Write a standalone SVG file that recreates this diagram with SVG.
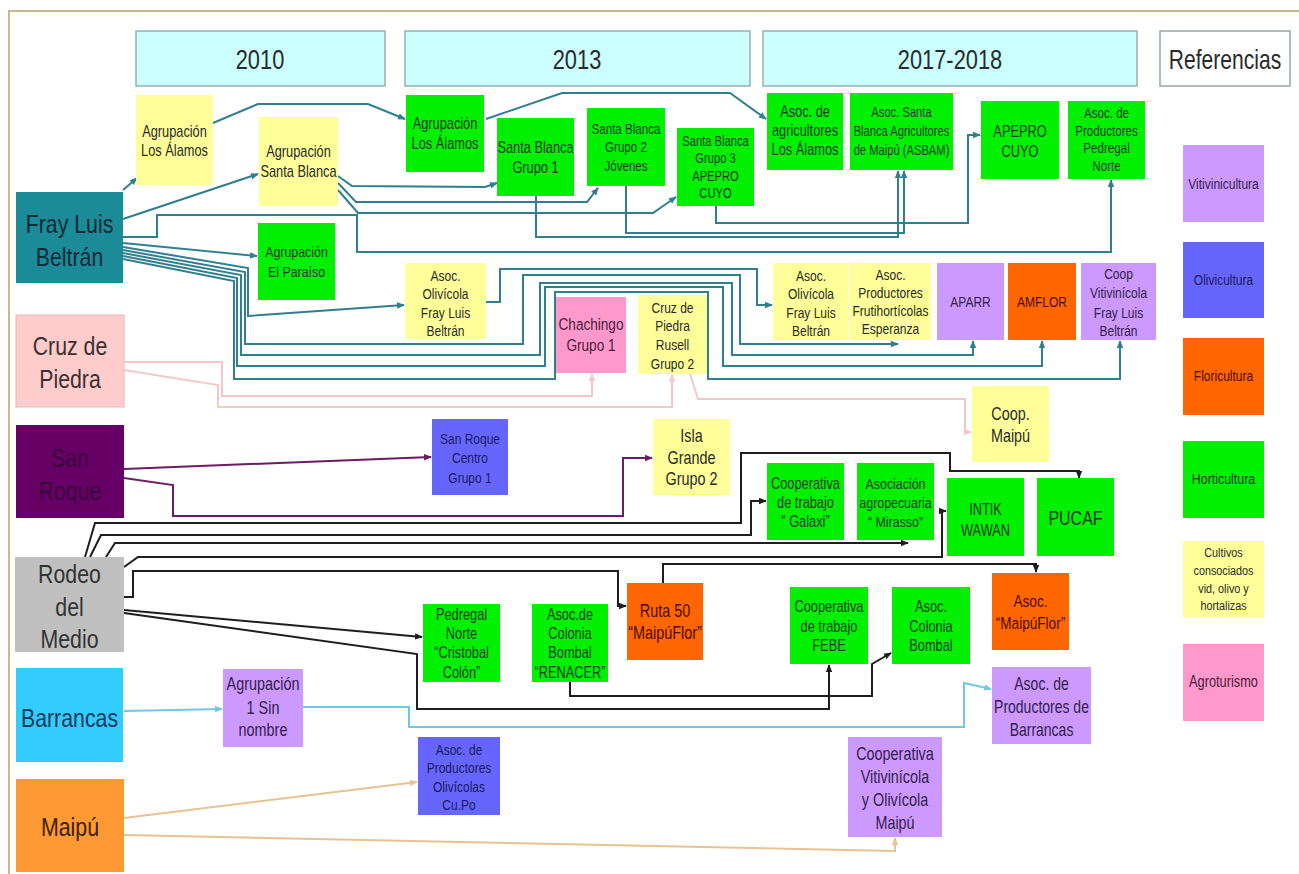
<svg xmlns="http://www.w3.org/2000/svg" width="1299" height="874" viewBox="0 0 1299 874">
<style>
text{font-family:"Liberation Sans",Arial,sans-serif;text-anchor:middle;fill:#2a2a2a}
.hd{fill:#ccffff;stroke:#9aaeb4;stroke-width:1.5}
.yl{fill:#ffff99}.gr{fill:#00f000}.lv{fill:#cc99ff}.bl{fill:#6666ff}.or{fill:#ff6600}.pk{fill:#ff99cc}
.tgr{fill:#1f3a1f}.tbl{fill:#1a1a5a}.tor{fill:#4a0c00}.tlv{fill:#33204a}.tpk{fill:#4a1a3a}
.c{fill:none;stroke-width:2;stroke-linejoin:miter}
.teal{stroke:#2f7f8e;marker-end:url(#mt)}
.pink{stroke:#f2c9c9;marker-end:url(#mp)}
.purp{stroke:#6e1b66;marker-end:url(#mu)}
.blk{stroke:#1e1e1e;marker-end:url(#mk)}
.lb{stroke:#74c6e4;marker-end:url(#mb)}
.tan{stroke:#e8c293;marker-end:url(#mn)}
</style>
<defs>
<marker id="mt" markerWidth="8" markerHeight="8" refX="7" refY="4" orient="auto" markerUnits="userSpaceOnUse"><path d="M0,0.8 L8,4 L0,7.2 Z" fill="#2f7f8e"/></marker>
<marker id="mp" markerWidth="8" markerHeight="8" refX="7" refY="4" orient="auto" markerUnits="userSpaceOnUse"><path d="M0,0.8 L8,4 L0,7.2 Z" fill="#f2c9c9"/></marker>
<marker id="mu" markerWidth="8" markerHeight="8" refX="7" refY="4" orient="auto" markerUnits="userSpaceOnUse"><path d="M0,0.8 L8,4 L0,7.2 Z" fill="#6e1b66"/></marker>
<marker id="mk" markerWidth="8" markerHeight="8" refX="7" refY="4" orient="auto" markerUnits="userSpaceOnUse"><path d="M0,0.8 L8,4 L0,7.2 Z" fill="#1e1e1e"/></marker>
<marker id="mb" markerWidth="8" markerHeight="8" refX="7" refY="4" orient="auto" markerUnits="userSpaceOnUse"><path d="M0,0.8 L8,4 L0,7.2 Z" fill="#74c6e4"/></marker>
<marker id="mn" markerWidth="8" markerHeight="8" refX="7" refY="4" orient="auto" markerUnits="userSpaceOnUse"><path d="M0,0.8 L8,4 L0,7.2 Z" fill="#e8c293"/></marker>
</defs>
<rect x="0" y="0" width="1299" height="874" fill="#ffffff"/>
<path d="M9,874 L9,11 L1299,11" fill="none" stroke="#c9b98c" stroke-width="2"/>

<g id="headers">
<g id="h-2010"><rect class="hd" x="136" y="31" width="249" height="55"/><text transform="translate(260 0) scale(0.78 1)" font-size="28"><tspan x="0" y="69">2010</tspan></text></g>
<g id="h-2013"><rect class="hd" x="405" y="31" width="345" height="55"/><text transform="translate(577 0) scale(0.78 1)" font-size="28"><tspan x="0" y="69">2013</tspan></text></g>
<g id="h-2017"><rect class="hd" x="763" y="31" width="374" height="55"/><text transform="translate(950 0) scale(0.78 1)" font-size="28"><tspan x="0" y="69">2017-2018</tspan></text></g>
<g id="h-ref"><rect x="1160" y="31" width="130" height="55" fill="#ffffff" stroke="#9aa4a8" stroke-width="1.5"/><text transform="translate(1225 0) scale(0.78 1)" font-size="27"><tspan x="0" y="69">Referencias</tspan></text></g>
</g>

<g id="connectors">
<path class="c teal" d="M123,190 L137,178"/>
<path class="c teal" d="M123,219 L258,174"/>
<path class="c teal" d="M213,123 L258,104 L368,104 L405,119"/>
<path class="c teal" d="M486,119 L562,93 L730,93 L766,119"/>
<path class="c teal" d="M338,176 L352,186 L485,187 L497,183"/>
<path class="c teal" d="M338,183 L356,202 L587,202 L598,188"/>
<path class="c teal" d="M338,190 L358,213 L653,213 L676,197"/>
<path class="c teal" d="M123,237 L157,237 L157,215 L357,215 L357,252 L1111,252 L1111,180"/>
<path class="c teal" d="M536,196 L536,237 L898,237 L898,171"/>
<path class="c teal" d="M626,186 L626,233 L904,233 L904,171"/>
<path class="c teal" d="M716,206 L716,223 L968,223 L968,135 L980,135"/>
<path class="c teal" d="M123,243 L257,256"/>
<path class="c teal" d="M123,247 L248,268 L248,316 L404,305"/>
<path class="c teal" d="M123,250 L245,272 L245,344 L523,344 L523,275 L740,275 L740,344 L898,344"/>
<path class="c teal" d="M123,253 L241,275 L241,355 L540,355 L540,283 L732,283 L732,355 L973,355 L973,341"/>
<path class="c teal" d="M123,256 L237,278 L237,366 L545,366 L545,287 L723,287 L723,366 L1042,366 L1042,341"/>
<path class="c teal" d="M123,259 L234,281 L234,379 L555,379 L555,292 L708,292 L708,379 L1120,379 L1120,341"/>
<path class="c teal" d="M486,302 L500,302 L500,269 L757,269 L757,305 L772,305"/>
<path class="c pink" d="M124,362 L222,362 L222,396 L592,396 L592,374"/>
<path class="c pink" d="M124,370 L218,385 L218,407 L672,407 L672,375"/>
<path class="c pink" d="M690,374 L698,399 L965,399 L965,432 L971,432"/>
<path class="c purp" d="M124,469 L431,457"/>
<path class="c purp" d="M124,478 L173,485 L173,516 L623,516 L623,458 L652,458"/>
<path class="c blk" d="M85,557 L95,523 L741,523 L741,453 L950,453 L950,471 L1079,471 L1079,478"/>
<path class="c blk" d="M90,557 L101,535 L751,535 L751,501 L766,501"/>
<path class="c blk" d="M106,557 L115,543 L908,543"/>
<path class="c blk" d="M124,567 L138,557 L942,557 L942,511 L946,511"/>
<path class="c blk" d="M124,597 L133,597 L133,571 L618,571 L618,606 L626,606"/>
<path class="c blk" d="M124,610 L422,637"/>
<path class="c blk" d="M124,613 L417,654 L417,709 L829,709 L829,665"/>
<path class="c blk" d="M663,583 L663,564 L1036,564 L1036,572"/>
<path class="c blk" d="M570,682 L570,696 L872,696 L872,664 L891,653"/>
<path class="c lb" d="M124,711 L222,709"/>
<path class="c lb" d="M303,707 L409,707 L409,727 L964,727 L964,683 L991,689"/>
<path class="c tan" d="M124,818 L417,782"/>
<path class="c tan" d="M124,835 L895,851 L895,838"/>
</g>

<g id="n-fray-luis-beltran"><rect x="16" y="192" width="107" height="91" fill="#1a8b97"/><text transform="translate(69.5 0) scale(0.82 1)" font-size="26" style="fill:#0f2a3a"><tspan x="0" y="233">Fray Luis</tspan><tspan x="0" y="266">Beltrán</tspan></text></g>
<g id="n-cruz-de-piedra"><rect x="16" y="315" width="108" height="92" fill="#ffcccc" stroke="#e6b8b8"/><text transform="translate(70 0) scale(0.82 1)" font-size="26" style="fill:#3a3030"><tspan x="0" y="355">Cruz de</tspan><tspan x="0" y="388">Piedra</tspan></text></g>
<g id="n-san-roque"><rect x="16" y="425" width="108" height="93" fill="#660066"/><text transform="translate(70 0) scale(0.82 1)" font-size="26" style="fill:#3a003a"><tspan x="0" y="467">San</tspan><tspan x="0" y="500">Roque</tspan></text></g>
<g id="n-rodeo-del-medio"><rect x="15" y="557" width="109" height="95" fill="#c0c0c0"/><text transform="translate(69.5 0) scale(0.82 1)" font-size="26" style="fill:#333"><tspan x="0" y="583">Rodeo</tspan><tspan x="0" y="616">del</tspan><tspan x="0" y="648">Medio</tspan></text></g>
<g id="n-barrancas"><rect x="16" y="668" width="107" height="94" fill="#33ccff"/><text transform="translate(69.5 0) scale(0.82 1)" font-size="26" style="fill:#163a5a"><tspan x="0" y="727">Barrancas</tspan></text></g>
<g id="n-maipu"><rect x="16" y="779" width="108" height="93" fill="#ff9933"/><text transform="translate(70 0) scale(0.82 1)" font-size="26" style="fill:#3a2200"><tspan x="0" y="836">Maipú</tspan></text></g>

<g id="n-agr-los-alamos-2010"><rect class="yl" x="136" y="95" width="77" height="90"/><text transform="translate(174.5 0) scale(0.8 1)" font-size="16"><tspan x="0" y="137">Agrupación</tspan><tspan x="0" y="156">Los Álamos</tspan></text></g>
<g id="n-agr-santa-blanca-2010"><rect class="yl" x="259" y="117" width="79" height="89"/><text transform="translate(298.5 0) scale(0.8 1)" font-size="16"><tspan x="0" y="157">Agrupación</tspan><tspan x="0" y="177">Santa Blanca</tspan></text></g>
<g id="n-agr-el-paraiso"><rect class="gr" x="258" y="223" width="77" height="77"/><text class="tgr" transform="translate(296.5 0) scale(0.8 1)" font-size="15.5"><tspan x="0" y="257">Agrupación</tspan><tspan x="0" y="277">El Paraíso</tspan></text></g>
<g id="n-asoc-olivicola-2010"><rect class="yl" x="405" y="263" width="81" height="76"/><text transform="translate(445.5 0) scale(0.8 1)" font-size="15"><tspan x="0" y="281">Asoc.</tspan><tspan x="0" y="299">Olivícola</tspan><tspan x="0" y="318">Fray Luis</tspan><tspan x="0" y="336">Beltrán</tspan></text></g>
<g id="n-san-roque-centro"><rect class="bl" x="432" y="419" width="76" height="76"/><text class="tbl" transform="translate(470 0) scale(0.8 1)" font-size="15"><tspan x="0" y="444">San Roque</tspan><tspan x="0" y="463">Centro</tspan><tspan x="0" y="483">Grupo 1</tspan></text></g>
<g id="n-agr-1-sin-nombre"><rect class="lv" x="223" y="669" width="80" height="78"/><text class="tlv" transform="translate(263 0) scale(0.8 1)" font-size="18"><tspan x="0" y="690">Agrupación</tspan><tspan x="0" y="714">1 Sin</tspan><tspan x="0" y="736">nombre</tspan></text></g>
<g id="n-cupo"><rect class="bl" x="418" y="737" width="82" height="78"/><text class="tbl" transform="translate(459 0) scale(0.8 1)" font-size="15"><tspan x="0" y="755">Asoc. de</tspan><tspan x="0" y="773">Productores</tspan><tspan x="0" y="792">Olivícolas</tspan><tspan x="0" y="810">Cu.Po</tspan></text></g>

<g id="n-agr-los-alamos-2013"><rect class="gr" x="406" y="95" width="78" height="77"/><text class="tgr" transform="translate(445 0) scale(0.8 1)" font-size="16"><tspan x="0" y="129">Agrupación</tspan><tspan x="0" y="149">Los Álamos</tspan></text></g>
<g id="n-sb-grupo-1"><rect class="gr" x="497" y="118" width="77" height="78"/><text class="tgr" transform="translate(535.5 0) scale(0.8 1)" font-size="16"><tspan x="0" y="153">Santa Blanca</tspan><tspan x="0" y="173">Grupo 1</tspan></text></g>
<g id="n-sb-grupo-2"><rect class="gr" x="587" y="108" width="78" height="78"/><text class="tgr" transform="translate(626 0) scale(0.8 1)" font-size="14.5"><tspan x="0" y="134">Santa Blanca</tspan><tspan x="0" y="152">Grupo 2</tspan><tspan x="0" y="171">Jóvenes</tspan></text></g>
<g id="n-sb-grupo-3"><rect class="gr" x="677" y="128" width="77" height="78"/><text class="tgr" transform="translate(715.5 0) scale(0.8 1)" font-size="14"><tspan x="0" y="146">Santa Blanca</tspan><tspan x="0" y="163">Grupo 3</tspan><tspan x="0" y="181">APEPRO</tspan><tspan x="0" y="198">CUYO</tspan></text></g>
<g id="n-chachingo"><rect class="pk" x="556" y="297" width="70" height="76"/><text class="tpk" transform="translate(591 0) scale(0.8 1)" font-size="17"><tspan x="0" y="330">Chachingo</tspan><tspan x="0" y="351">Grupo 1</tspan></text></g>
<g id="n-cdp-rusell"><rect class="yl" x="638" y="295" width="69" height="79"/><text transform="translate(672.5 0) scale(0.8 1)" font-size="15"><tspan x="0" y="313">Cruz de</tspan><tspan x="0" y="331">Piedra</tspan><tspan x="0" y="350">Rusell</tspan><tspan x="0" y="369">Grupo 2</tspan></text></g>
<g id="n-isla-grande"><rect class="yl" x="653" y="419" width="77" height="76"/><text transform="translate(691.5 0) scale(0.8 1)" font-size="18"><tspan x="0" y="442">Isla</tspan><tspan x="0" y="464">Grande</tspan><tspan x="0" y="485">Grupo 2</tspan></text></g>
<g id="n-pedregal-colon"><rect class="gr" x="423" y="604" width="77" height="78"/><text class="tgr" transform="translate(461.5 0) scale(0.8 1)" font-size="16"><tspan x="0" y="620">Pedregal</tspan><tspan x="0" y="639">Norte</tspan><tspan x="0" y="658">“Cristobal</tspan><tspan x="0" y="678">Colón”</tspan></text></g>
<g id="n-renacer"><rect class="gr" x="532" y="604" width="76" height="78"/><text class="tgr" transform="translate(570 0) scale(0.8 1)" font-size="16"><tspan x="0" y="620">Asoc.de</tspan><tspan x="0" y="639">Colonia</tspan><tspan x="0" y="658">Bombal</tspan><tspan x="0" y="678">“RENACER”</tspan></text></g>
<g id="n-ruta-50"><rect class="or" x="627" y="583" width="76" height="77"/><text class="tor" transform="translate(665 0) scale(0.8 1)" font-size="18"><tspan x="0" y="617">Ruta 50</tspan><tspan x="0" y="639">“MaipúFlor”</tspan></text></g>

<g id="n-asoc-agric-los-alamos"><rect class="gr" x="767" y="93" width="76" height="77"/><text class="tgr" transform="translate(805 0) scale(0.8 1)" font-size="16"><tspan x="0" y="117">Asoc. de</tspan><tspan x="0" y="136">agricultores</tspan><tspan x="0" y="155">Los Álamos</tspan></text></g>
<g id="n-asbam"><rect class="gr" x="850" y="93" width="103" height="77"/><text class="tgr" transform="translate(901.5 0) scale(0.8 1)" font-size="14"><tspan x="0" y="117">Asoc. Santa</tspan><tspan x="0" y="136">Blanca Agricultores</tspan><tspan x="0" y="155">de Maipú (ASBAM)</tspan></text></g>
<g id="n-apepro-cuyo"><rect class="gr" x="981" y="101" width="78" height="78"/><text class="tgr" transform="translate(1020 0) scale(0.8 1)" font-size="16"><tspan x="0" y="137">APEPRO</tspan><tspan x="0" y="157">CUYO</tspan></text></g>
<g id="n-pedregal-norte"><rect class="gr" x="1068" y="101" width="77" height="78"/><text class="tgr" transform="translate(1106.5 0) scale(0.8 1)" font-size="14.5"><tspan x="0" y="118">Asoc. de</tspan><tspan x="0" y="136">Productores</tspan><tspan x="0" y="153">Pedregal</tspan><tspan x="0" y="171">Norte</tspan></text></g>
<g id="n-asoc-olivicola-2017"><rect class="yl" x="773" y="263" width="76" height="77"/><text transform="translate(811 0) scale(0.8 1)" font-size="15"><tspan x="0" y="281">Asoc.</tspan><tspan x="0" y="299">Olivícola</tspan><tspan x="0" y="318">Fray Luis</tspan><tspan x="0" y="336">Beltrán</tspan></text></g>
<g id="n-frutihorticolas"><rect class="yl" x="850" y="263" width="81" height="77"/><text transform="translate(890.5 0) scale(0.8 1)" font-size="15"><tspan x="0" y="280">Asoc.</tspan><tspan x="0" y="298">Productores</tspan><tspan x="0" y="316">Frutihortícolas</tspan><tspan x="0" y="334">Esperanza</tspan></text></g>
<g id="n-aparr"><rect class="lv" x="937" y="263" width="67" height="77"/><text class="tlv" transform="translate(970.5 0) scale(0.8 1)" font-size="15"><tspan x="0" y="307">APARR</tspan></text></g>
<g id="n-amflor"><rect class="or" x="1008" y="263" width="68" height="77"/><text class="tor" transform="translate(1042 0) scale(0.8 1)" font-size="15"><tspan x="0" y="307">AMFLOR</tspan></text></g>
<g id="n-coop-viti-flb"><rect class="lv" x="1081" y="263" width="75" height="77"/><text class="tlv" transform="translate(1118.5 0) scale(0.8 1)" font-size="15"><tspan x="0" y="279">Coop</tspan><tspan x="0" y="298">Vitivinícola</tspan><tspan x="0" y="318">Fray Luis</tspan><tspan x="0" y="336">Beltrán</tspan></text></g>
<g id="n-coop-maipu"><rect class="yl" x="972" y="386" width="77" height="76"/><text transform="translate(1010.5 0) scale(0.8 1)" font-size="18"><tspan x="0" y="420">Coop.</tspan><tspan x="0" y="442">Maipú</tspan></text></g>
<g id="n-galaxi"><rect class="gr" x="767" y="463" width="77" height="77"/><text class="tgr" transform="translate(805.5 0) scale(0.8 1)" font-size="16"><tspan x="0" y="489">Cooperativa</tspan><tspan x="0" y="508">de trabajo</tspan><tspan x="0" y="527">“ Galaxi”</tspan></text></g>
<g id="n-mirasso"><rect class="gr" x="857" y="463" width="77" height="77"/><text class="tgr" transform="translate(895.5 0) scale(0.8 1)" font-size="15.5"><tspan x="0" y="489">Asociación</tspan><tspan x="0" y="508">agropecuaria</tspan><tspan x="0" y="527">“ Mirasso”</tspan></text></g>
<g id="n-intik-wawan"><rect class="gr" x="947" y="478" width="77" height="78"/><text class="tgr" transform="translate(985.5 0) scale(0.8 1)" font-size="16"><tspan x="0" y="515">INTIK</tspan><tspan x="0" y="536">WAWAN</tspan></text></g>
<g id="n-pucaf"><rect class="gr" x="1037" y="478" width="77" height="78"/><text class="tgr" transform="translate(1075.5 0) scale(0.8 1)" font-size="20"><tspan x="0" y="525">PUCAF</tspan></text></g>
<g id="n-febe"><rect class="gr" x="790" y="587" width="78" height="77"/><text class="tgr" transform="translate(829 0) scale(0.8 1)" font-size="16"><tspan x="0" y="612">Cooperativa</tspan><tspan x="0" y="632">de trabajo</tspan><tspan x="0" y="651">FEBE</tspan></text></g>
<g id="n-colonia-bombal"><rect class="gr" x="892" y="587" width="78" height="77"/><text class="tgr" transform="translate(931 0) scale(0.8 1)" font-size="16"><tspan x="0" y="612">Asoc.</tspan><tspan x="0" y="632">Colonia</tspan><tspan x="0" y="651">Bombal</tspan></text></g>
<g id="n-asoc-maipuflor"><rect class="or" x="992" y="573" width="77" height="77"/><text class="tor" transform="translate(1030.5 0) scale(0.8 1)" font-size="17"><tspan x="0" y="607">Asoc.</tspan><tspan x="0" y="629">“MaipúFlor”</tspan></text></g>
<g id="n-prod-barrancas"><rect class="lv" x="992" y="667" width="99" height="77"/><text class="tlv" transform="translate(1041.5 0) scale(0.8 1)" font-size="17.5"><tspan x="0" y="690">Asoc. de</tspan><tspan x="0" y="713">Productores de</tspan><tspan x="0" y="736">Barrancas</tspan></text></g>
<g id="n-coop-viti-oli-maipu"><rect class="lv" x="848" y="737" width="94" height="100"/><text class="tlv" transform="translate(895 0) scale(0.8 1)" font-size="18"><tspan x="0" y="760">Cooperativa</tspan><tspan x="0" y="783">Vitivinícola</tspan><tspan x="0" y="806">y Olivícola</tspan><tspan x="0" y="829">Maipú</tspan></text></g>

<g id="legend">
<g id="l-viti"><rect class="lv" x="1183" y="145" width="81" height="77"/><text class="tlv" transform="translate(1223.5 0) scale(0.8 1)" font-size="15"><tspan x="0" y="189">Vitivinicultura</tspan></text></g>
<g id="l-oli"><rect class="bl" x="1183" y="242" width="81" height="76"/><text class="tbl" transform="translate(1223.5 0) scale(0.8 1)" font-size="15"><tspan x="0" y="285">Olivicultura</tspan></text></g>
<g id="l-flori"><rect class="or" x="1183" y="338" width="81" height="77"/><text class="tor" transform="translate(1223.5 0) scale(0.8 1)" font-size="15"><tspan x="0" y="381">Floricultura</tspan></text></g>
<g id="l-horti"><rect class="gr" x="1183" y="441" width="81" height="77"/><text class="tgr" transform="translate(1223.5 0) scale(0.8 1)" font-size="15.5"><tspan x="0" y="484">Horticultura</tspan></text></g>
<g id="l-cultivos"><rect class="yl" x="1183" y="541" width="81" height="77"/><text transform="translate(1223.5 0) scale(0.8 1)" font-size="13.5"><tspan x="0" y="557">Cultivos</tspan><tspan x="0" y="575">consociados</tspan><tspan x="0" y="593">vid, olivo y</tspan><tspan x="0" y="610">hortalizas</tspan></text></g>
<g id="l-agrot"><rect class="pk" x="1183" y="644" width="81" height="77"/><text class="tpk" transform="translate(1223.5 0) scale(0.8 1)" font-size="16"><tspan x="0" y="687">Agroturismo</tspan></text></g>
</g>
</svg>
